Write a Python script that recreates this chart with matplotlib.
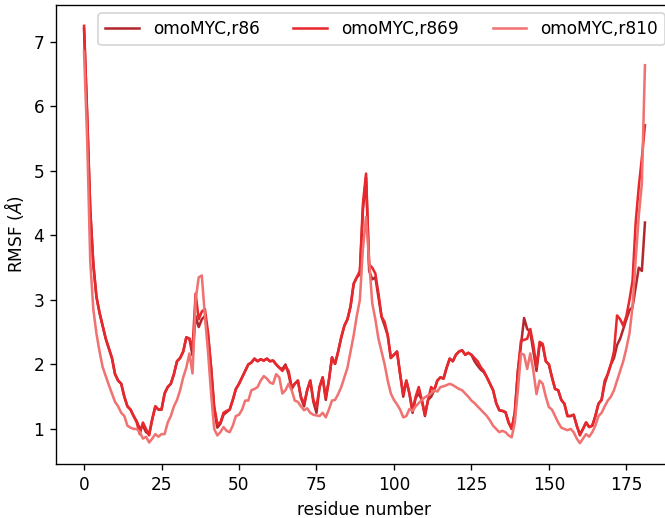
import matplotlib
matplotlib.use("Agg")
import matplotlib.pyplot as plt
import numpy as np

labels = ["omoMYC,r86", "omoMYC,r869", "omoMYC,r810"]
colors = ["#b3282e", "#e8282c", "#f07271"]

residues = np.arange(182)

# RMSF per residue
rmsf_r86 = [
    7.20, 5.85, 4.40, 3.55, 3.05, 2.80, 2.60, 2.40, 2.25, 2.10,
    1.85, 1.75, 1.70, 1.50, 1.35, 1.30, 1.20, 1.12, 1.00, 1.05,
    0.95, 0.92, 1.15, 1.35, 1.30, 1.30, 1.55, 1.65, 1.70, 1.85,
    2.05, 2.10, 2.20, 2.42, 2.40, 2.14, 2.75, 2.58, 2.70, 2.75,
    2.45, 1.95, 1.30, 1.02, 1.08, 1.22, 1.26, 1.30, 1.45, 1.62,
    1.70, 1.80, 1.90, 2.00, 2.03, 2.09, 2.05, 2.08, 2.06, 2.09,
    2.05, 2.06, 2.00, 1.95, 1.93, 2.00, 1.85, 1.62, 1.70, 1.75,
    1.48, 1.35, 1.60, 1.75, 1.42, 1.25, 1.65, 1.80, 1.45, 1.75,
    2.11, 2.01, 2.20, 2.42, 2.60, 2.70, 2.90, 3.25, 3.35, 3.40,
    4.40, 4.90, 3.45, 3.32, 3.35, 3.05, 2.74, 2.60, 2.45, 2.10,
    2.15, 2.20, 1.85, 1.50, 1.75, 1.55, 1.25, 1.48, 1.55, 1.45,
    1.20, 1.45, 1.50, 1.60, 1.75, 1.80, 1.78, 1.95, 2.09, 2.05,
    2.15, 2.20, 2.22, 2.15, 2.18, 2.15, 2.05, 1.98, 1.92, 1.88,
    1.80, 1.70, 1.60, 1.40, 1.29, 1.28, 1.26, 1.10, 1.00, 1.25,
    1.90, 2.30, 2.72, 2.55, 2.50, 2.20, 1.90, 2.30, 2.30, 2.05,
    2.00, 1.80, 1.62, 1.60, 1.45, 1.39, 1.20, 1.20, 1.22, 1.05,
    0.92, 1.00, 1.10, 1.03, 1.05, 1.20, 1.39, 1.45, 1.70, 1.85,
    2.00, 2.10, 2.30, 2.40, 2.55, 2.70, 2.84, 2.89, 3.20, 3.50,
    3.45, 4.20,
]

rmsf_r869 = [
    7.25, 5.90, 4.40, 3.55, 3.05, 2.80, 2.60, 2.40, 2.25, 2.10,
    1.85, 1.75, 1.70, 1.50, 1.35, 1.30, 1.20, 1.10, 0.92, 1.10,
    1.00, 0.90, 1.15, 1.35, 1.30, 1.30, 1.55, 1.65, 1.70, 1.85,
    2.05, 2.10, 2.20, 2.42, 2.40, 2.25, 3.10, 2.70, 2.82, 2.86,
    2.50, 1.95, 1.35, 1.08, 1.10, 1.25, 1.28, 1.30, 1.45, 1.62,
    1.70, 1.80, 1.90, 2.00, 2.03, 2.09, 2.05, 2.08, 2.06, 2.09,
    2.05, 2.06, 2.00, 1.95, 1.90, 1.97, 1.90, 1.65, 1.70, 1.75,
    1.50, 1.39, 1.60, 1.75, 1.45, 1.34, 1.65, 1.80, 1.49, 1.75,
    2.11, 2.01, 2.20, 2.42, 2.60, 2.70, 2.90, 3.25, 3.35, 3.45,
    4.50, 4.96, 3.55, 3.50, 3.41, 3.10, 2.74, 2.66, 2.45, 2.10,
    2.15, 2.20, 1.85, 1.54, 1.75, 1.55, 1.29, 1.50, 1.65, 1.45,
    1.22, 1.45, 1.65, 1.60, 1.75, 1.80, 1.78, 1.95, 2.09, 2.05,
    2.15, 2.20, 2.22, 2.15, 2.18, 2.15, 2.10, 2.05, 1.96, 1.90,
    1.80, 1.70, 1.60, 1.40, 1.29, 1.28, 1.26, 1.10, 1.00, 1.25,
    1.90, 2.37, 2.38, 2.40, 2.55, 2.30, 1.96, 2.35, 2.32, 2.05,
    2.00, 1.80, 1.62, 1.60, 1.45, 1.39, 1.20, 1.20, 1.22, 1.05,
    0.90, 1.00, 1.10, 1.03, 1.05, 1.20, 1.39, 1.45, 1.75, 1.85,
    2.00, 2.20, 2.76, 2.70, 2.60, 2.75, 3.00, 3.30, 4.20, 4.75,
    5.20, 5.71,
]

rmsf_r810 = [
    6.85, 5.50, 3.60, 2.85, 2.48, 2.20, 1.96, 1.82, 1.68, 1.55,
    1.42, 1.35, 1.25, 1.20, 1.05, 1.02, 1.00, 1.00, 0.95, 0.85,
    0.88, 0.79, 0.85, 0.92, 0.88, 0.92, 0.92, 1.10, 1.20, 1.35,
    1.45, 1.60, 1.80, 1.95, 2.17, 1.86, 3.00, 3.35, 3.38, 2.75,
    2.20, 1.55, 1.00, 0.90, 0.95, 1.03, 0.97, 0.95, 1.05, 1.20,
    1.22, 1.30, 1.44, 1.44, 1.60, 1.62, 1.65, 1.75, 1.82, 1.78,
    1.72, 1.70, 1.85, 1.80, 1.55, 1.60, 1.70, 1.60, 1.44, 1.42,
    1.35, 1.29, 1.32, 1.25, 1.22, 1.21, 1.20, 1.25, 1.18, 1.30,
    1.44, 1.45, 1.54, 1.65, 1.80, 1.95, 2.20, 2.45, 2.75, 3.00,
    3.80, 4.29, 3.60, 2.95, 2.70, 2.40, 2.20, 2.00, 1.75, 1.55,
    1.45, 1.38, 1.30, 1.18, 1.20, 1.31, 1.28, 1.35, 1.40, 1.45,
    1.49, 1.52, 1.55, 1.60, 1.58, 1.65, 1.66, 1.68, 1.70, 1.68,
    1.65, 1.62, 1.60, 1.55, 1.50, 1.44, 1.40, 1.35, 1.30, 1.25,
    1.20, 1.13, 1.05, 1.00, 0.95, 0.97, 0.95, 0.90, 0.87, 1.10,
    1.60, 2.17, 2.15, 1.93, 2.17, 1.90, 1.54, 1.75, 1.70, 1.50,
    1.34, 1.30, 1.20, 1.10, 1.02, 1.00, 0.98, 1.00, 0.95, 0.85,
    0.78, 0.85, 0.92, 0.88, 0.95, 1.05, 1.20, 1.25, 1.35, 1.44,
    1.50, 1.60, 1.75, 1.90, 2.05, 2.25, 2.48, 2.90, 3.62, 4.30,
    4.80, 6.64,
]

series = [rmsf_r86, rmsf_r869, rmsf_r810]

dpi = 122
fig = plt.figure(figsize=(665 / dpi, 518 / dpi), dpi=dpi)
# right spine sits just past the canvas edge, as in the reference
ax = fig.add_axes([56 / 665, 1 - 464 / 518, 617 / 665, 459 / 518])

for vals, lab, col in zip(series, labels, colors):
    ax.plot(residues, vals, color=col, lw=1.5, label=lab)

ax.set_xticks([0, 25, 50, 75, 100, 125, 150, 175])
ax.set_xlabel("residue number")
ax.set_ylabel("RMSF ($Å$)")
ax.legend(loc="upper right", ncol=3)

fig.savefig("out.png", dpi=dpi)
plt.close(fig)
